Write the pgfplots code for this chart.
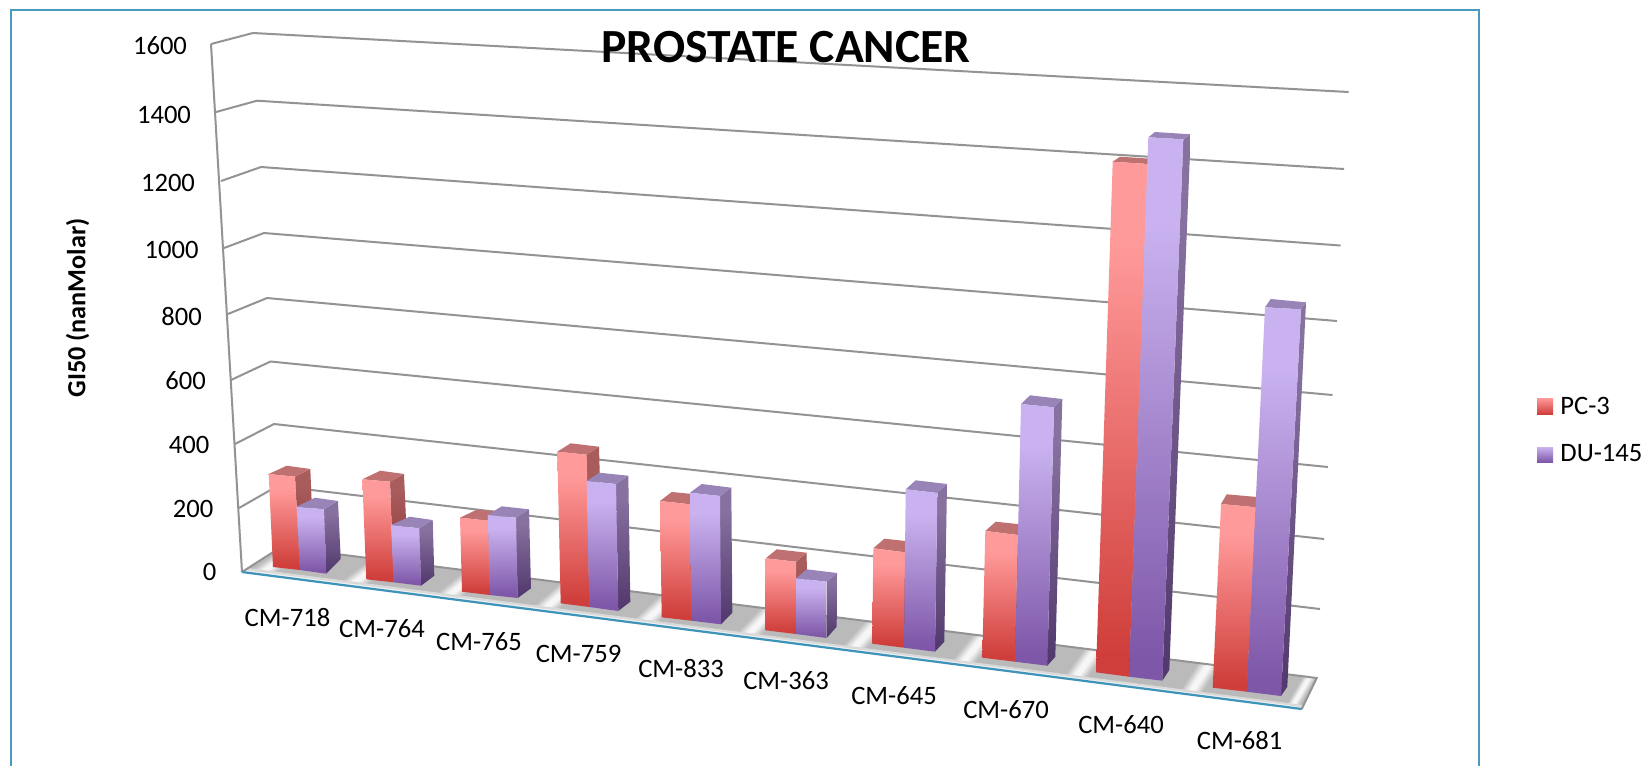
\documentclass[border=0pt]{standalone}
\usepackage{pgfplots}
\pgfplotsset{compat=1.18}
\usepackage{fontspec}
\setmainfont{Carlito}
\definecolor{pcT}{HTML}{FF9A9A}\definecolor{pcB}{HTML}{CF3E3A}
\definecolor{duT}{HTML}{C9B2EF}\definecolor{duB}{HTML}{7E57A8}
\definecolor{pcST}{HTML}{A85C5C}\definecolor{pcSB}{HTML}{8A3432}
\definecolor{duST}{HTML}{86719F}\definecolor{duSB}{HTML}{533A6E}
\definecolor{pcTop}{HTML}{BF7070}\definecolor{duTop}{HTML}{9884B6}
\definecolor{gridc}{HTML}{939393}\definecolor{frame}{HTML}{4A9AC0}
\definecolor{edge}{HTML}{3E93B8}\definecolor{shadow}{HTML}{BABABA}\definecolor{glow}{HTML}{F6F6F6}
\pgfdeclareverticalshading{pcf}{100bp}{color(0bp)=(pcB);color(27bp)=(pcB);color(67bp)=(pcT);color(100bp)=(pcT)}
\pgfdeclareverticalshading{duf}{100bp}{color(0bp)=(duB);color(27bp)=(duB);color(67bp)=(duT);color(100bp)=(duT)}
\pgfdeclareverticalshading{pcs}{100bp}{color(0bp)=(pcSB);color(27bp)=(pcSB);color(67bp)=(pcST);color(100bp)=(pcST)}
\pgfdeclareverticalshading{dus}{100bp}{color(0bp)=(duSB);color(27bp)=(duSB);color(67bp)=(duST);color(100bp)=(duST)}
\pgfdeclareverticalshading{band}{100bp}{color(0bp)=(shadow);color(41bp)=(shadow);color(48bp)=(glow);color(52bp)=(glow);color(59bp)=(shadow);color(100bp)=(shadow)}
% front TL TR BR BL, top-back L, top-back R, bottom-back R
\newcommand{\PC}[7]{%
  \addplot[shade,shading=pcs,draw=none] coordinates {#2 #6 #7 #3} -- cycle;
  \addplot[fill=pcTop,draw=none] coordinates {#1 #5 #6 #2} -- cycle;
  \addplot[shade,shading=pcf,draw=none] coordinates {#1 #2 #3 #4} -- cycle;
}
\newcommand{\DU}[7]{%
  \addplot[shade,shading=dus,draw=none] coordinates {#2 #6 #7 #3} -- cycle;
  \addplot[fill=duTop,draw=none] coordinates {#1 #5 #6 #2} -- cycle;
  \addplot[shade,shading=duf,draw=none] coordinates {#1 #2 #3 #4} -- cycle;
}
\newcommand{\gridl}[3]{\addplot[gridc,line width=1pt] coordinates {#1 #2 #3};}
\newcommand{\gap}[5]{\addplot[shade,shading=band,shading angle=#5,draw=none] coordinates {#1 #2 #3 #4} -- cycle;}
\begin{document}
\begin{tikzpicture}
\begin{axis}[hide axis,scale only axis,width=821.5pt,height=383.5pt,
  xmin=0,xmax=1643,ymin=0,ymax=767,y dir=reverse,clip=false,no markers]
% page
\addplot[fill=white,draw=none] coordinates {(0,0) (1643,0) (1643,767) (0,767)} -- cycle;
% frame
\addplot[frame,line width=1.2pt] coordinates {(11,766) (11,10) (1479,10) (1479,766)};
% walls
\gridl{(211,44)}{(253,33)}{(1348.6,92)}
\gridl{(216,112)}{(257,100.7)}{(1344,169)}
\gridl{(221,181)}{(261,167)}{(1340.5,245.5)}
\gridl{(224,248)}{(264,233)}{(1337,321)}
\gridl{(228,314)}{(267,298)}{(1332.5,395)}
\gridl{(231,380)}{(270.5,361.5)}{(1328,467)}
\gridl{(235,444)}{(274,424)}{(1324,539)}
\gridl{(239,508)}{(277.5,486)}{(1320,609)}
\addplot[gridc,line width=1pt] coordinates {(211,44) (242,572)};
% floor
\addplot[fill=shadow,draw=none] coordinates {(242,572) (281,547) (1316.7,678) (1301.7,709)} -- cycle;
\gap{(242,572)}{(273,576)}{(311,550.8)}{(281,547)}{36}
\gap{(328,583.1)}{(368,588.3)}{(405,562.7)}{(365,557.6)}{37}
\gap{(423,595.4)}{(464,600.7)}{(498.5,574.5)}{(457.5,569.3)}{39}
\gap{(520,607.9)}{(562,613.4)}{(594,586.6)}{(552,581.3)}{41}
\gap{(620,620.9)}{(663,626.4)}{(693,599.1)}{(650,593.7)}{43}
\gap{(723,634.2)}{(767,639.9)}{(794,611.9)}{(750,606.3)}{46}
\gap{(828,647.8)}{(874,653.7)}{(899,625.2)}{(853,619.4)}{48}
\gap{(937,661.9)}{(984,667.9)}{(1007,638.8)}{(960,632.9)}{51}
\gap{(1050,676.5)}{(1098,682.7)}{(1118,652.9)}{(1070,646.8)}{54}
\gap{(1165,691.3)}{(1214,697.7)}{(1232,667.3)}{(1183,661.1)}{57}
\gap{(1283,706.6)}{(1301.7,709)}{(1316.7,678)}{(1300,675.9)}{60}
% light bands along the front edge
\addplot[fill=white!85!black,draw=none] coordinates {(248,568) (1303.5,705) (1301.7,709) (242,572)} -- cycle;
\addplot[fill=white!94!black,draw=none] coordinates {(245,570) (1302.6,707) (1301.7,709) (242,572)} -- cycle;
\addplot[gridc,line width=1pt] coordinates {(242,572) (281,547) (1316.7,678) (1301.7,709)};
\addplot[edge,line width=1.1pt] coordinates {(242,572) (1301.7,709)};
% CM-718
\PC{(268.7,474)}{(295,476.7)}{(300,570)}{(273,567)}{(286.7,465.7)}{(310.3,469)}{(314,558)}
\DU{(296.7,506.7)}{(324,509.3)}{(326.3,573.7)}{(300,570)}{(315,497.7)}{(338,501)}{(340.7,559)}
% CM-764
\PC{(362.3,479.3)}{(390,481.7)}{(393.7,582.3)}{(366.3,579.3)}{(380.3,470.7)}{(404,474)}{(408,565)}
\DU{(391,525)}{(419.3,528.3)}{(421,585.7)}{(393.7,582.3)}{(409.7,516.7)}{(432.7,520)}{(434.3,575.7)}
% CM-765
\PC{(460,517.7)}{(488.3,520.7)}{(490,595)}{(462,591.7)}{(476.7,509.7)}{(505,512)}{(504,585)}
\DU{(487.7,515)}{(516,517.7)}{(517.7,598)}{(490,595)}{(501.7,506.3)}{(529,509.3)}{(531,588.3)}
% CM-759
\PC{(557.3,451.7)}{(586.7,454.7)}{(589.3,607)}{(560.7,603.3)}{(570.7,443.3)}{(599,446.7)}{(603,595)}
\DU{(586.7,481)}{(616,484)}{(618.3,611)}{(589.3,607)}{(599.3,472.7)}{(628.3,475.7)}{(630.3,601.7)}
% CM-833
\PC{(660,501)}{(690,504.3)}{(691.3,620.7)}{(661.7,617.3)}{(671.7,492)}{(703,495)}{(703,610)}
\DU{(690,492.7)}{(720,496)}{(721,624.3)}{(691.3,620.7)}{(701.7,484)}{(731.3,487.7)}{(732.3,612.7)}
% CM-363
\PC{(765.7,558.3)}{(796,561.7)}{(796,634)}{(765.7,630.3)}{(776.7,549.3)}{(806.7,552.7)}{(807,622)}
\DU{(796,578.3)}{(826.7,581.7)}{(826.7,638)}{(796,634)}{(806.7,569.3)}{(837,573)}{(836.7,626.7)}
% CM-645
\PC{(873.3,548.3)}{(905,552.3)}{(904,647.7)}{(872.3,643.7)}{(884.3,538.7)}{(915,542)}{(915,637)}
\DU{(905.7,489.3)}{(937.3,493)}{(935,651.7)}{(904,647.7)}{(915.7,480.3)}{(947,484)}{(944.3,641.7)}
% CM-670
\PC{(985.3,531)}{(1017.7,535)}{(1015,661.7)}{(982.3,657.7)}{(995.7,521.7)}{(1027,525)}{(1025,652)}
\DU{(1021,404)}{(1054,407.3)}{(1047.3,665.7)}{(1015,661.7)}{(1030,395.3)}{(1062.3,399)}{(1055.3,656.7)}
% CM-640
\PC{(1112.7,161.7)}{(1147.7,164)}{(1129,676.7)}{(1096,672.3)}{(1120,156.7)}{(1155,159)}{(1136,667)}
\DU{(1148.3,137.3)}{(1183.3,139.3)}{(1162.3,680.7)}{(1129,676.7)}{(1155,132)}{(1190.7,134.3)}{(1169.3,670)}
% CM-681
\PC{(1221,504)}{(1255.7,507.3)}{(1246.7,691.7)}{(1212.7,687.7)}{(1226.7,494.3)}{(1263,497.5)}{(1254,682)}
\DU{(1265,307.3)}{(1301,309.3)}{(1281,696)}{(1246.7,691.7)}{(1270.7,299)}{(1306,302.3)}{(1287.3,686.7)}
% legend keys
\addplot[shade,top color=pcT,bottom color=pcB,draw=none] coordinates {(1537,398) (1553,398) (1553,414) (1537,414)} -- cycle;
\addplot[shade,top color=duT,bottom color=duB,draw=none] coordinates {(1537,447) (1553,447) (1553,462) (1537,462)} -- cycle;
% text
\tikzset{lab/.style={font=\fontsize{13.3}{15}\selectfont,inner sep=0pt,text=black}}
\node[font=\fontsize{23.8}{26}\bfseries\selectfont,inner sep=0pt] at (axis cs:786,47) {PROSTATE CANCER};
\node[lab,font=\fontsize{13.1}{15}\bfseries\selectfont,rotate=90] at (axis cs:77.7,308) {GI50 (nanMolar)};
\node[lab] at (axis cs:160,45.7) {1600};
\node[lab] at (axis cs:164,115) {1400};
\node[lab] at (axis cs:168,183) {1200};
\node[lab] at (axis cs:171.7,250) {1000};
\node[lab] at (axis cs:181.7,316.7) {800};
\node[lab] at (axis cs:185.7,381) {600};
\node[lab] at (axis cs:189,445) {400};
\node[lab] at (axis cs:193,509) {200};
\node[lab] at (axis cs:209.7,572) {0};
\node[lab] at (axis cs:287.5,617) {CM-718};
\node[lab] at (axis cs:382,628.7) {CM-764};
\node[lab] at (axis cs:479,641.5) {CM-765};
\node[lab] at (axis cs:578.5,654.3) {CM-759};
\node[lab] at (axis cs:681,668.3) {CM-833};
\node[lab] at (axis cs:786,681) {CM-363};
\node[lab] at (axis cs:894,696) {CM-645};
\node[lab] at (axis cs:1006,709.5) {CM-670};
\node[lab] at (axis cs:1121,725) {CM-640};
\node[lab] at (axis cs:1239.6,740) {CM-681};
\node[lab,anchor=west] at (axis cs:1560,405.7) {PC-3};
\node[lab,anchor=west] at (axis cs:1560,453) {DU-145};
\end{axis}
\end{tikzpicture}
\end{document}
